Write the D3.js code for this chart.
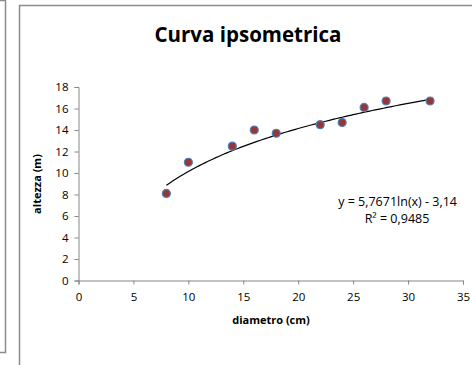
<!DOCTYPE html>
<html><head><meta charset="utf-8">
<script src="https://cdn.jsdelivr.net/npm/d3@7"></script>
<style>body{margin:0;background:#fff}svg{display:block}</style>
</head><body>
<svg id="c" width="472" height="365"></svg>
<script>
const diametro = [8, 10, 14, 16, 18, 22, 24, 26, 28, 32];
const altezza = [8.1, 11.0, 12.5, 14.0, 13.7, 14.5, 14.7, 16.1, 16.7, 16.7];
const xTicks = [0, 5, 10, 15, 20, 25, 30, 35];
const yTicks = [0, 2, 4, 6, 8, 10, 12, 14, 16, 18];
const trendA = 5.7671, trendB = -3.14;
const title = "Curva ipsometrica";
const xLabel = "diametro (cm)";
const yLabel = "altezza (m)";
const eqText = "y = 5,7671ln(x) - 3,14";
const r2Text = "R² = 0,9485";

const svg = d3.select("#c");
const font = "'Open Sans', sans-serif";

// outer frames
svg.append("path").attr("d","M0,0.5 H5.5 V352.5 H0").attr("fill","none").attr("stroke","#8c8c8c").attr("stroke-width",1.5);
svg.append("path").attr("d","M472,5.5 H19.5 V365").attr("fill","none").attr("stroke","#8c8c8c").attr("stroke-width",1.5);

const x = d3.scaleLinear().domain([0,35]).range([78.5,463]);
const y = d3.scaleLinear().domain([0,18]).range([280.5,87]);

const gx = svg.append("g").attr("transform","translate(0,280.5)")
  .call(d3.axisBottom(x).tickValues(xTicks).tickSize(4).tickPadding(8));
const gy = svg.append("g").attr("transform","translate(78.5,0)")
  .call(d3.axisLeft(y).tickValues(yTicks).tickSize(4).tickPadding(6));
[gx,gy].forEach(g=>{
  g.select(".domain").attr("stroke","#868686");
  g.selectAll(".tick line").attr("stroke","#868686");
  g.selectAll("text").attr("fill","#000").attr("font-family",font).attr("font-size",11.5);
});

// trendline
const xs = d3.range(8, 32.01, 0.25);
svg.append("path").datum(xs)
  .attr("d", d3.line().x(d=>x(d)).y(d=>y(trendA*Math.log(d)+trendB)))
  .attr("fill","none").attr("stroke","#000").attr("stroke-width",1.2);

// points
svg.selectAll("circle.p").data(diametro).join("circle")
  .attr("cx",(d)=>x(d)).attr("cy",(d,i)=>y(altezza[i])).attr("r",4)
  .attr("fill","#953735").attr("stroke","#4f81bd").attr("stroke-width",1.2);

svg.append("text").attr("x",248).attr("y",42).attr("text-anchor","middle")
  .attr("font-family",font).attr("font-weight","bold").attr("font-size",20.5).text(title);
svg.append("text").attr("x",271).attr("y",324).attr("text-anchor","middle")
  .attr("font-family",font).attr("font-weight","bold").attr("font-size",11).text(xLabel);
svg.append("text").attr("transform","translate(41,184) rotate(-90)").attr("text-anchor","middle")
  .attr("font-family",font).attr("font-weight","bold").attr("font-size",11).text(yLabel);
svg.append("text").attr("x",457).attr("y",206).attr("text-anchor","end")
  .attr("font-family",font).attr("font-size",12.5).text(eqText);
svg.append("text").attr("x",397).attr("y",223).attr("text-anchor","middle")
  .attr("font-family",font).attr("font-size",12.5).text(r2Text);
</script>
</body></html>
